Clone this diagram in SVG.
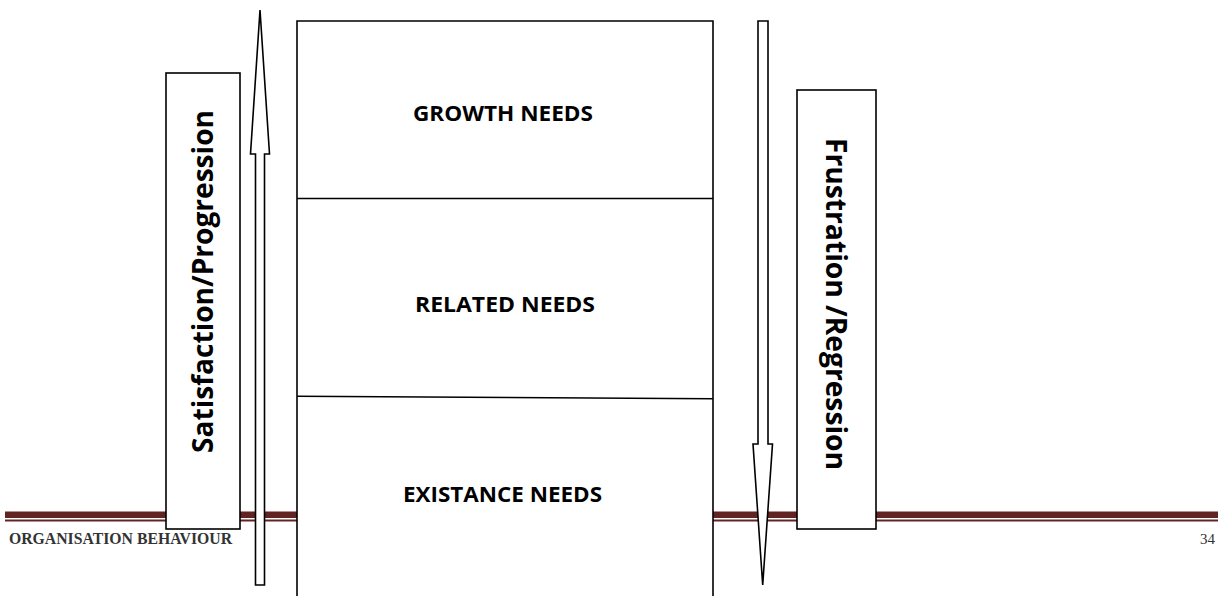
<svg xmlns="http://www.w3.org/2000/svg" width="1225" height="596" viewBox="0 0 1225 596">
  <style>
    .box { fill: #ffffff; stroke: #000000; stroke-width: 1.6; }
    .arrow { fill: #ffffff; stroke: #000000; stroke-width: 1.6; stroke-linejoin: miter; }
    .lbl { font-family: "Open Sans", "Liberation Sans", sans-serif; font-weight: bold; fill: #000000; }
    .footer { font-family: "Liberation Serif", serif; fill: #333333; }
  </style>
  <rect width="1225" height="596" fill="#ffffff"/>
  <g id="footer-bar">
    <rect x="5" y="511.5" width="1213" height="6.5" fill="#622423"/>
    <rect x="5" y="519.5" width="1213" height="2" fill="#622423"/>
  </g>
  <g id="footer-text">
    <text class="footer" x="9" y="544" font-size="16" font-weight="bold" textLength="223" lengthAdjust="spacingAndGlyphs">ORGANISATION BEHAVIOUR</text>
    <text class="footer" x="1215" y="544" font-size="15" text-anchor="end">34</text>
  </g>
  <g id="needs-stack">
    <path class="box" d="M297,600 L297,21 L713,21 L713,600"/>
    <line x1="297" y1="198.5" x2="713" y2="198.5" stroke="#000" stroke-width="1.6"/>
    <line x1="297" y1="396.3" x2="713" y2="398.7" stroke="#000" stroke-width="1.6"/>
  </g>
  <g id="growth-needs">
    <text class="lbl" x="503" y="121" font-size="21" text-anchor="middle" textLength="180" lengthAdjust="spacingAndGlyphs">GROWTH NEEDS</text>
  </g>
  <g id="related-needs">
    <text class="lbl" x="505" y="312" font-size="21" text-anchor="middle" textLength="180" lengthAdjust="spacingAndGlyphs">RELATED NEEDS</text>
  </g>
  <g id="existance-needs">
    <text class="lbl" x="502.5" y="502" font-size="21" text-anchor="middle" textLength="199" lengthAdjust="spacingAndGlyphs">EXISTANCE NEEDS</text>
  </g>
  <g id="satisfaction-progression">
    <rect class="box" x="166" y="73" width="74" height="456"/>
    <text class="lbl" transform="translate(203,281.5) rotate(-90)" x="0" y="10" font-size="29" text-anchor="middle" textLength="343" lengthAdjust="spacingAndGlyphs">Satisfaction/Progression</text>
  </g>
  <g id="frustration-regression">
    <rect class="box" x="797" y="90" width="79" height="439"/>
    <text class="lbl" transform="translate(836,304) rotate(90)" x="0" y="10" font-size="29" text-anchor="middle" textLength="332" lengthAdjust="spacingAndGlyphs">Frustration /Regression</text>
  </g>
  <g id="connectors">
    <polygon class="arrow" points="260,10 269.5,154 264.5,154 264.5,585 255.5,585 255.5,154 250.5,154"/>
    <polygon class="arrow" points="758,21 768,21 768,444 772.5,444 762.7,585 753,444 758,444"/>
  </g>
</svg>
